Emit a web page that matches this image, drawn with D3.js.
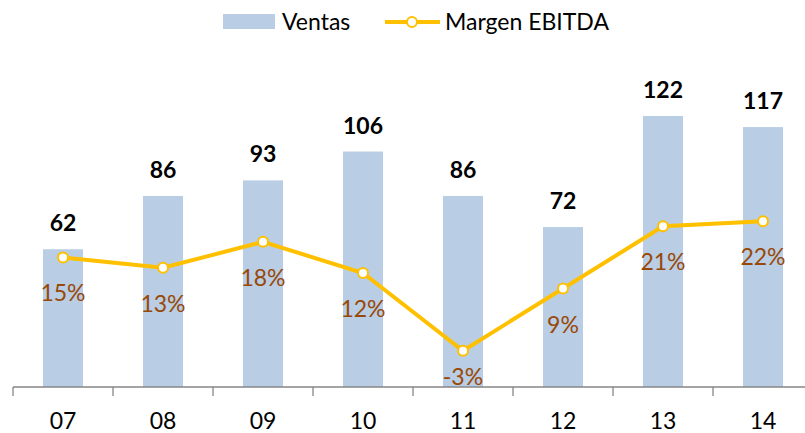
<!DOCTYPE html>
<html>
<head>
<meta charset="utf-8">
<script src="https://cdn.jsdelivr.net/npm/d3@7/dist/d3.min.js"></script>
<style>
  body { margin: 0; background: #fff; }
  svg { display: block; font-family: Lato, "Open Sans", sans-serif; }
</style>
</head>
<body>
<svg id="chart" width="805" height="433"></svg>
<script>
const years = ["07", "08", "09", "10", "11", "12", "13", "14"];
const ventas = [62, 86, 93, 106, 86, 72, 122, 117];
const margen = [15, 13, 18, 12, -3, 9, 21, 22];

const BAR_COLOR = "#b9cde4";
const LINE_COLOR = "#ffc000";
const PCT_COLOR = "#984807";

const svg = d3.select("#chart");

const x = d3.scaleBand().domain(years).range([13, 813]);
const y = d3.scaleLinear().domain([0, 140]).range([387, 76]);
const y2 = d3.scaleLinear().domain([-10, 50]).range([387, 76]);

// bars
svg.append("g")
  .selectAll("rect")
  .data(ventas)
  .enter()
  .append("rect")
  .attr("x", (d, i) => x(years[i]) + x.bandwidth() * 0.3)
  .attr("y", d => y(d))
  .attr("width", x.bandwidth() * 0.4)
  .attr("height", d => y(0) - y(d))
  .style("fill", BAR_COLOR);

// x axis
const axis = svg.append("g")
  .attr("transform", "translate(0,387)")
  .call(d3.axisBottom(x).tickSize(0).tickPadding(26));
axis.select(".domain").remove();
axis.append("line")
  .attr("x1", 13).attr("x2", 805)
  .attr("stroke", "#868686").attr("stroke-width", 1.3);
axis.selectAll(".sep")
  .data(years)
  .enter()
  .append("line")
  .attr("x1", d => x(d)).attr("x2", d => x(d))
  .attr("y1", 0).attr("y2", 9)
  .attr("stroke", "#868686").attr("stroke-width", 1.3);
axis.selectAll(".tick text")
  .style("font-family", "Lato, sans-serif")
  .style("font-size", "23px")
  .style("fill", "#000");

// bar value labels
svg.append("g")
  .selectAll("text")
  .data(ventas)
  .enter()
  .append("text")
  .attr("x", (d, i) => x(years[i]) + x.bandwidth() / 2)
  .attr("y", d => y(d) - 18)
  .attr("text-anchor", "middle")
  .style("font-size", "23px")
  .style("font-weight", "bold")
  .text(d => d);

// margin line
const cx = (d, i) => x(years[i]) + x.bandwidth() / 2;
const line = d3.line()
  .x(cx)
  .y(d => y2(d));

svg.append("path")
  .datum(margen)
  .attr("d", line)
  .attr("fill", "none")
  .attr("stroke", LINE_COLOR)
  .attr("stroke-width", 4);

svg.append("g")
  .selectAll("circle")
  .data(margen)
  .enter()
  .append("circle")
  .attr("cx", cx)
  .attr("cy", d => y2(d))
  .attr("r", 5)
  .attr("fill", "#fff")
  .attr("stroke", LINE_COLOR)
  .attr("stroke-width", 2);

// percentage labels
svg.append("g")
  .selectAll("text")
  .data(margen)
  .enter()
  .append("text")
  .attr("x", cx)
  .attr("y", d => Math.min(y2(d) + 44, 385))
  .attr("text-anchor", "middle")
  .style("font-size", "23px")
  .style("fill", PCT_COLOR)
  .text(d => d + "%");

// legend
const legend = svg.append("g");
legend.append("rect")
  .attr("x", 223).attr("y", 14)
  .attr("width", 52).attr("height", 15)
  .style("fill", BAR_COLOR);
legend.append("text")
  .attr("x", 282).attr("y", 30)
  .style("font-size", "23px")
  .text("Ventas");
legend.append("line")
  .attr("x1", 385).attr("x2", 440)
  .attr("y1", 22).attr("y2", 22)
  .attr("stroke", LINE_COLOR).attr("stroke-width", 4);
legend.append("circle")
  .attr("cx", 412).attr("cy", 22).attr("r", 5)
  .attr("fill", "#fff")
  .attr("stroke", LINE_COLOR).attr("stroke-width", 2);
legend.append("text")
  .attr("x", 445).attr("y", 30)
  .style("font-size", "23px")
  .text("Margen EBITDA");
</script>
</body>
</html>
